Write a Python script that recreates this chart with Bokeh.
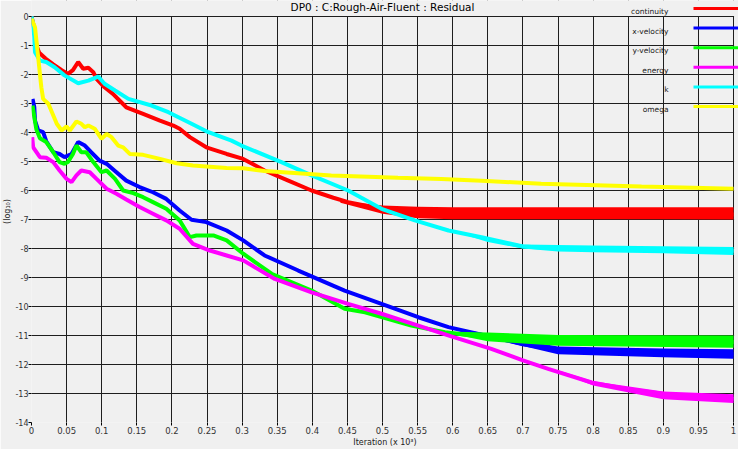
from bokeh.plotting import figure
from bokeh.models import FixedTicker, Label, BoxAnnotation, Range1d
from bokeh.embed import file_html
from bokeh.resources import INLINE

# ---------------- data ----------------
chart_title = "DP0 : C:Rough-Air-Fluent : Residual"
x_ticks = [0, 0.05, 0.1, 0.15, 0.2, 0.25, 0.3, 0.35, 0.4, 0.45, 0.5,
           0.55, 0.6, 0.65, 0.7, 0.75, 0.8, 0.85, 0.9, 0.95, 1]
x_tick_labels = ["0", "0.05", "0.1", "0.15", "0.2", "0.25", "0.3", "0.35", "0.4", "0.45", "0.5",
                 "0.55", "0.6", "0.65", "0.7", "0.75", "0.8", "0.85", "0.9", "0.95", "1"]
y_ticks = [0, -1, -2, -3, -4, -5, -6, -7, -8, -9, -10, -11, -12, -13, -14]
y_tick_labels = ["0", "-1", "-2", "-3", "-4", "-5", "-6", "-7", "-8", "-9", "-10", "-11", "-12", "-13", "-14"]

series_names = ["continuity", "x-velocity", "y-velocity", "energy", "k", "omega"]
series_colors = ["#ff0000", "#0000ff", "#00ff00", "#ff00ff", "#00ffff", "#ffff00"]

continuity_x = [0, .003, .007, .011, .02, .031, .043, .052, .059, .0665, .0736, .081, .088, .0926,
                .104, .116, .135, .159, .183, .202, .211, .2256, .249, .278, .3015, .332, .365, .399,
                .43, .451, .4986, .55, .6, .7, .8, .9, 1.0]
continuity_y = [0, -.3, -1.0, -1.25, -1.45, -1.65, -1.85, -1.98, -1.85, -1.57, -1.8, -1.77, -1.92, -2.15,
                -2.44, -2.67, -3.13, -3.36, -3.59, -3.76, -3.87, -4.16, -4.51, -4.74, -4.91, -5.31, -5.65, -6.0,
                -6.25, -6.4, -6.63, -6.76, -6.8, -6.81, -6.82, -6.82, -6.83]
continuity_band_x = [.44, .5, .55, .6, .7, .8, .9, 1.0]
continuity_band_hi = [-6.36, -6.52, -6.56, -6.58, -6.58, -6.58, -6.58, -6.58]
continuity_band_lo = [-6.42, -6.8, -6.96, -6.99, -6.99, -6.99, -6.99, -7.0]

xvel_x = [.0015, .004, .005, .0095, .0166, .021, .031, .040, .047, .057, .0665, .076, .085, .097, .107,
          .121, .135, .154, .173, .192, .211, .228, .249, .278, .3016, .332, .38, .446, .4986, .551,
          .594, .646, .7, .75, .8, .9, 1.0]
xvel_y = [-2.84, -3.13, -3.59, -3.93, -3.99, -4.3, -4.68, -4.74, -4.85, -4.74, -4.33, -4.45, -4.68, -4.97,
          -5.08, -5.37, -5.66, -5.88, -6.06, -6.29, -6.69, -7.01, -7.09, -7.38, -7.72, -8.24, -8.76, -9.45,
          -9.91, -10.37, -10.71, -11.0, -11.3, -11.5, -11.57, -11.62, -11.65]
xvel_band_x = [.6, .65, .75, .9, 1.0]
xvel_band_hi = [-10.72, -10.95, -11.38, -11.45, -11.47]
xvel_band_lo = [-10.78, -11.08, -11.65, -11.75, -11.8]

yvel_x = [.0015, .004, .007, .012, .021, .031, .040, .047, .052, .059, .064, .071, .078, .088, .0997,
          .107, .119, .1306, .145, .159, .173, .192, .211, .2256, .235, .259, .278, .3016, .342, .399,
          .446, .475, .541, .589, .646, .7, .8, 1.0]
yvel_y = [-3.07, -3.47, -3.9, -4.2, -4.33, -4.68, -5.02, -5.08, -5.02, -4.74, -4.45, -4.68, -4.68, -5.02,
          -5.37, -5.31, -5.60, -6.0, -6.09, -6.23, -6.40, -6.63, -7.03, -7.61, -7.55, -7.55, -7.72, -8.18,
          -8.87, -9.45, -10.08, -10.20, -10.66, -10.89, -11.05, -11.15, -11.2, -11.22]
yvel_band_x = [.58, .62, .65, .75, 1.0]
yvel_band_hi = [-10.86, -10.88, -10.9, -10.98, -11.0]
yvel_band_lo = [-10.9, -11.05, -11.2, -11.35, -11.42]

energy_x = [.001, .0024, .012, .021, .031, .040, .050, .057, .064, .071, .083, .0926, .107, .121, .135,
            .154, .173, .192, .211, .230, .254, .278, .3016, .3466, .399, .451, .4986, .551, .598, .655,
            .7, .736, .798, .85, .902, .95, 1.0]
energy_y = [-4.16, -4.51, -4.85, -4.87, -5.02, -5.31, -5.60, -5.71, -5.48, -5.31, -5.37, -5.60, -5.94,
            -6.11, -6.31, -6.57, -6.80, -7.03, -7.32, -7.84, -8.07, -8.24, -8.41, -9.05, -9.51, -9.91,
            -10.25, -10.66, -11.03, -11.46, -11.86, -12.15, -12.62, -12.85, -13.02, -13.12, -13.18]
energy_band_x = [.75, .8, .9, 1.0]
energy_band_hi = [-12.2, -12.58, -12.93, -13.03]
energy_band_lo = [-12.25, -12.72, -13.2, -13.33]

k_x = [0, .002, .004, .005, .012, .021, .033, .047, .0665, .081, .095, .104, .119, .138, .171, .195,
       .228, .252, .285, .299, .356, .399, .451, .4986, .546, .594, .641, .7, .75, .8, .9, 1.0]
k_y = [0, -.25, -.71, -1.23, -1.52, -1.57, -1.75, -2.03, -2.30, -2.21, -2.07, -2.32, -2.55, -2.84, -3.07,
       -3.30, -3.70, -3.99, -4.28, -4.45, -5.02, -5.48, -6.0, -6.63, -7.03, -7.38, -7.61, -7.93, -8.0,
       -8.02, -8.05, -8.08]
k_band_x = [.62, .65, .7, .75, .8, .9, 1.0]
k_band_hi = [-7.52, -7.7, -7.86, -7.88, -7.9, -7.92, -7.95]
k_band_lo = [-7.55, -7.78, -8.0, -8.1, -8.13, -8.16, -8.22]

omega_x = [0, .005, .007, .0095, .012, .014, .0166, .024, .036, .043, .05, .0546, .064, .071, .076, .081,
           .09, .0997, .107, .114, .1235, .1306, .14, .159, .183, .2066, .23, .278, .3016, .332, .427,
           .522, .584, .641, .726, .869, 1.0]
omega_y = [-.08, -.37, -.83, -1.40, -1.98, -2.44, -2.84, -3.01, -3.70, -3.93, -3.79, -3.93, -3.62, -3.70,
           -3.82, -3.76, -3.87, -4.22, -4.05, -4.16, -4.45, -4.51, -4.74, -4.77, -4.91, -5.06, -5.14, -5.22,
           -5.23, -5.33, -5.48, -5.56, -5.60, -5.66, -5.77, -5.86, -5.94]

lines = [(continuity_x, continuity_y), (xvel_x, xvel_y), (yvel_x, yvel_y),
         (energy_x, energy_y), (k_x, k_y), (omega_x, omega_y)]
bands = [(continuity_band_x, continuity_band_lo, continuity_band_hi),
         (xvel_band_x, xvel_band_lo, xvel_band_hi),
         (yvel_band_x, yvel_band_lo, yvel_band_hi),
         (energy_band_x, energy_band_lo, energy_band_hi),
         (k_band_x, k_band_lo, k_band_hi),
         None]

# ---------------- layout constants ----------------
BG = "#f0f0f0"
FONT = "DejaVu Sans"
X0, X1 = 0, 1
Y0, Y1 = -14, 0
PLOT_W = 702          # pixels spanned by x in [0, 1]
PLOT_H = 406          # pixels spanned by y in [-14, 0]
EXTRA_TOP = 16        # frame extends above y=0 (room for title + legend)
EXTRA_RIGHT = 5       # frame extends right of x=1 (legend lines)
x_end = X1 + (X1 - X0) * EXTRA_RIGHT / PLOT_W
y_end = Y1 + (Y1 - Y0) * EXTRA_TOP / PLOT_H
FRAME_W = PLOT_W + EXTRA_RIGHT
FRAME_H = PLOT_H + EXTRA_TOP

p = figure(frame_width=FRAME_W, frame_height=FRAME_H, output_backend="svg", toolbar_location=None,
           x_range=Range1d(X0, x_end), y_range=Range1d(Y0, y_end),
           min_border_left=30, min_border_right=0, min_border_top=0, min_border_bottom=0)
p.background_fill_color = BG
p.border_fill_color = BG
p.outline_line_color = None

for ax in (p.xaxis[0], p.yaxis[0]):
    ax.major_label_text_font = FONT
    ax.major_label_text_font_size = "8.5px"
    ax.major_label_text_color = "#333333"
    ax.axis_label_text_font = FONT
    ax.axis_label_text_font_size = "8px"
    ax.axis_label_text_font_style = "normal"
    ax.axis_label_text_color = "#222222"
    ax.axis_line_color = None
    ax.major_tick_line_color = "#000000"
    ax.major_tick_in = 0
    ax.major_tick_out = 3
    ax.minor_tick_line_color = None
    ax.major_label_standoff = 1
    ax.axis_label_standoff = 1
p.yaxis.axis_label_standoff = 0
p.yaxis.major_label_standoff = 0
p.yaxis.major_label_text_font_size = "8px"

p.xaxis.ticker = FixedTicker(ticks=x_ticks)
p.xaxis.major_label_overrides = {t: s for t, s in zip(x_ticks, x_tick_labels)}
p.yaxis.ticker = FixedTicker(ticks=y_ticks)
p.yaxis.major_label_overrides = {t: s for t, s in zip(y_ticks, y_tick_labels)}
p.xaxis.axis_label = "Iteration (x 10³)"
p.yaxis.axis_label = "(log₁₀)"

p.xgrid.ticker = FixedTicker(ticks=x_ticks)
p.ygrid.ticker = FixedTicker(ticks=y_ticks)
for g in (p.xgrid[0], p.ygrid[0]):
    g.grid_line_color = "#1e1e1e"
    g.grid_line_width = 1
    g.grid_line_alpha = 1.0

# mask the strips outside the [0,1] x [-14,0] plotting area (hide grid there)
p.add_layout(BoxAnnotation(bottom=Y1 + 0.02, fill_color=BG, fill_alpha=1, line_color=None, level="glyph"))
p.add_layout(BoxAnnotation(left=X1 + 0.0008, fill_color=BG, fill_alpha=1, line_color=None, level="glyph"))

for (xs, ys), band, col in zip(lines, bands, series_colors):
    if band is not None:
        bx, blo, bhi = band
        p.varea(x=bx, y1=blo, y2=bhi, fill_color=col)
    p.line(xs, ys, line_color=col, line_width=4)

# ---------------- title (inside the frame's top strip) ----------------
p.add_layout(Label(x=(X0 + X1) / 2, y=FRAME_H, x_units="data", y_units="screen",
                   text=chart_title, text_align="center", text_baseline="top",
                   text_font=FONT, text_font_size="10.5px", text_color="#000000", level="overlay"))

# ---------------- legend (text left, line right) ----------------
leg_first = FRAME_H - 8   # screen px from frame bottom
leg_step = 19.6
leg_text_right = 637
leg_line_left = 662
leg_line_right = FRAME_W
for i, (name, col) in enumerate(zip(series_names, series_colors)):
    yl = leg_first - i * leg_step
    p.add_layout(BoxAnnotation(left=leg_line_left, right=leg_line_right,
                               top=yl + 1.5, bottom=yl - 1.5,
                               left_units="screen", right_units="screen",
                               top_units="screen", bottom_units="screen",
                               fill_color=col, fill_alpha=1, line_color=None,
                               level="overlay"))
    p.add_layout(Label(x=leg_text_right, y=yl - 3, x_units="screen", y_units="screen",
                       text=name, text_align="right", text_baseline="middle",
                       text_font=FONT, text_font_size="7.5px", text_color="#222222",
                       level="overlay"))

open("out.html", "w").write(file_html(p, INLINE))
